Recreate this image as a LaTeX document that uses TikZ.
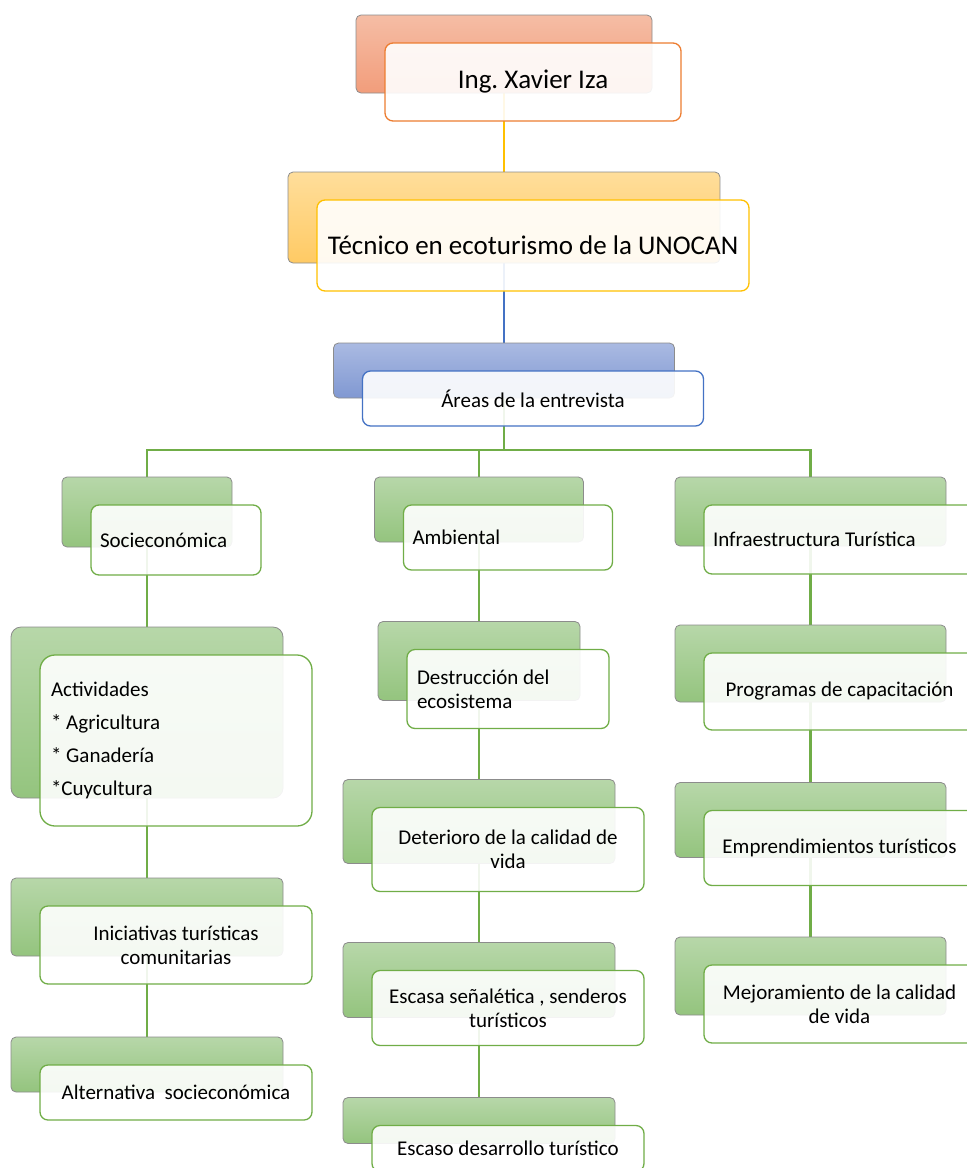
\documentclass[tikz,border=0pt]{standalone}
\usepackage{fontspec}
\setmainfont{Carlito}
\usetikzlibrary{calc}

\definecolor{salTop}{HTML}{F5BDA5}
\definecolor{salBot}{HTML}{F29D7B}
\definecolor{salLine}{HTML}{ED7D31}
\definecolor{golTop}{HTML}{FFDE9B}
\definecolor{golBot}{HTML}{FFCA64}
\definecolor{golLine}{HTML}{FFC000}
\definecolor{bluTop}{HTML}{AABAE2}
\definecolor{bluBot}{HTML}{8098D2}
\definecolor{bluLine}{HTML}{4472C4}
\definecolor{grnTop}{HTML}{B7D7A9}
\definecolor{grnBot}{HTML}{94C47E}
\definecolor{grnLine}{HTML}{70AD47}

\newcommand{\txtbig}{\fontsize{27}{32}\selectfont}
\newcommand{\txtnorm}{\fontsize{21}{24}\selectfont}

\pgfdeclarelayer{background}
\pgfsetlayers{background,main}

\begin{document}
\begin{tikzpicture}[x=1pt, y=-1pt,
    rearbox/.style={rounded corners=5pt, draw=black!45, line width=0.8pt, inner sep=0pt},
    facebox/.style={rounded corners=8pt, fill=white, fill opacity=0.9, text opacity=1,
                    line width=1.3pt, inner xsep=9pt, inner ysep=0pt, align=center, font=\txtnorm,
                    execute at begin node={\frenchspacing\spaceskip=0pt\xspaceskip=0pt}},
    salfill/.style={top color=salTop, bottom color=salBot},
    golfill/.style={top color=golTop, bottom color=golBot},
    blufill/.style={top color=bluTop, bottom color=bluBot},
    grnfill/.style={top color=grnTop, bottom color=grnBot},
    link/.style={line width=2.6pt},
]

    % --- page ---
                \useasboundingbox (0,0) rectangle (967,1168);
                \clip (0,0) rectangle (967,1168);

    % --- top of the chart ---
                \node[rearbox, salfill, minimum width=296pt, minimum height=78pt] (b1) at (504,54) {};
                \node[facebox, draw=salLine, minimum width=296pt, minimum height=78pt, font=\txtbig]
                    (f1) at ($(b1)+(29,28)$) {Ing. Xavier Iza};

                \node[rearbox, golfill, minimum width=432pt, minimum height=91pt] (b2) at (504,217.5) {};
                \node[facebox, draw=golLine, minimum width=432pt, minimum height=91pt, font=\txtbig]
                    (f2) at ($(b2)+(29,28)$) {Técnico en ecoturismo de la UNOCAN};

                \node[rearbox, blufill, minimum width=341pt, minimum height=55pt] (b3) at (504,370.5) {};
                \node[facebox, draw=bluLine, minimum width=341pt, minimum height=55pt]
                    (f3) at ($(b3)+(29,28)$) {Áreas de la entrevista};

    % --- left column ---
                \node[rearbox, grnfill, minimum width=170pt, minimum height=70pt] (bSoc) at (147,512) {};
                \node[facebox, draw=grnLine, text width=152pt, minimum height=70pt, align=left]
                    (fSoc) at ($(bSoc)+(29,28)$) {Socieconómica};

                \node[rearbox, grnfill, rounded corners=10pt, minimum width=272pt, minimum height=171pt] (bAct) at (147,712.5) {};
                \node[facebox, draw=grnLine, rounded corners=15pt, text width=250pt, inner xsep=11pt,
                      minimum height=171pt, align=left, font=\fontsize{21}{33}\selectfont]
                    (fAct) at ($(bAct)+(29,28)$) {Actividades\\{}* Agricultura\\{}* Ganadería\\{}*Cuycultura};

                \node[rearbox, grnfill, minimum width=272pt, minimum height=78pt] (bIni) at (147,917) {};
                \node[facebox, draw=grnLine, minimum width=272pt, minimum height=78pt]
                    (fIni) at ($(bIni)+(29,28)$) {Iniciativas turísticas\\comunitarias};

                \node[rearbox, grnfill, minimum width=272pt, minimum height=55pt] (bAlt) at (147,1064.5) {};
                \node[facebox, draw=grnLine, minimum width=272pt, minimum height=55pt]
                    (fAlt) at ($(bAlt)+(29,28)$) {Alternativa~~socieconómica};

    % --- middle column ---
                \node[rearbox, grnfill, minimum width=209pt, minimum height=65pt] (bAmb) at (479,509.5) {};
                \node[facebox, draw=grnLine, text width=191pt, minimum height=65pt, align=left]
                    (fAmb) at ($(bAmb)+(29,28)$) {Ambiental};

                \node[rearbox, grnfill, minimum width=202pt, minimum height=79pt] (bDes) at (479,661) {};
                \node[facebox, draw=grnLine, text width=182pt, inner xsep=10pt, minimum height=79pt, align=left]
                    (fDes) at ($(bDes)+(29,28)$) {Destrucción del\\ecosistema};

                \node[rearbox, grnfill, minimum width=272pt, minimum height=84pt] (bDet) at (479,821.5) {};
                \node[facebox, draw=grnLine, minimum width=272pt, minimum height=84pt]
                    (fDet) at ($(bDet)+(29,28)$) {Deterioro de la calidad de\\vida};

                \node[rearbox, grnfill, minimum width=272pt, minimum height=75pt] (bEsc) at (479,980) {};
                \node[facebox, draw=grnLine, minimum width=272pt, minimum height=75pt]
                    (fEsc) at ($(bEsc)+(29,28)$) {Escasa señalética , senderos\\turísticos};

                \node[rearbox, grnfill, minimum width=272pt, minimum height=46pt] (bEdt) at (479,1120.5) {};
                \node[facebox, draw=grnLine, minimum width=272pt, minimum height=46pt]
                    (fEdt) at ($(bEdt)+(29,28)$) {Escaso desarrollo turístico};

    % --- right column (runs past the page edge) ---
                \node[rearbox, grnfill, minimum width=271pt, minimum height=69pt] (bInf) at (810.5,511.5) {};
                \node[facebox, draw=grnLine, text width=253pt, minimum height=69pt, align=left]
                    (fInf) at ($(bInf)+(29,28)$) {Infraestructura Turística};

                \node[rearbox, grnfill, minimum width=271pt, minimum height=77pt] (bPro) at (810.5,663.5) {};
                \node[facebox, draw=grnLine, minimum width=271pt, minimum height=77pt]
                    (fPro) at ($(bPro)+(29,28)$) {Programas de capacitación};

                \node[rearbox, grnfill, minimum width=271pt, minimum height=75pt] (bEmp) at (810.5,820) {};
                \node[facebox, draw=grnLine, minimum width=271pt, minimum height=75pt]
                    (fEmp) at ($(bEmp)+(29,28)$) {Emprendimientos turísticos};

                \node[rearbox, grnfill, minimum width=271pt, minimum height=78pt] (bMej) at (810.5,976) {};
                \node[facebox, draw=grnLine, minimum width=271pt, minimum height=78pt]
                    (fMej) at ($(bMej)+(29,28)$) {Mejoramiento de la calidad\\de vida};

    % --- connectors (behind the boxes) ---
                \coordinate (bus) at (0,450);
                \begin{pgfonlayer}{background}
                    \draw[link, golLine] (b1.south) -- (b2.north);
                    \draw[link, bluLine] (b2.south) -- (b3.north);
                    \draw[link, grnLine] (b3.south) -- (b3.south |- bus);
                    \draw[link, grnLine] (bSoc.north) -- (bSoc.north |- bus) -- (bInf.north |- bus) -- (bInf.north);
                    \draw[link, grnLine] (bAmb.north) -- (bAmb.north |- bus);
                    \foreach \u/\v in {bSoc/bAct, bAct/bIni, bIni/bAlt,
                                       bAmb/bDes, bDes/bDet, bDet/bEsc, bEsc/bEdt,
                                       bInf/bPro, bPro/bEmp, bEmp/bMej}
                        \draw[link, grnLine] (\u.south) -- (\v.north);
                \end{pgfonlayer}

\end{tikzpicture}
\end{document}
